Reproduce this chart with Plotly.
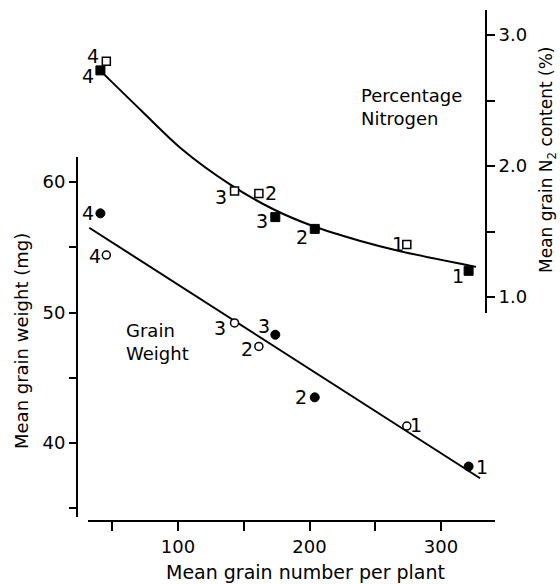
import plotly.graph_objects as go

# ---------------- data ----------------
point_labels = ["1", "2", "3", "4"]
grain_number_filled = [321, 204, 174, 41]
grain_number_open = [274, 161.5, 143, 45.5]

weight_filled = [38.2, 43.5, 48.3, 57.6]
weight_open = [41.3, 47.4, 49.2, 54.4]

nitrogen_filled = [1.20, 1.52, 1.61, 2.73]
nitrogen_open = [1.40, 1.79, 1.81, 2.80]

weight_fit_x = [32.5, 329.7]
weight_fit_y = [56.5, 37.3]

nitrogen_fit_x = [40.7, 72.4, 102.8, 139.5, 172.5, 203, 238, 269, 326.6]
nitrogen_fit_y = [2.73, 2.42, 2.13, 1.86, 1.67, 1.54, 1.43, 1.35, 1.23]

x_tickvals = [50, 100, 150, 200, 250, 300]
x_ticktext = ["", "100", "", "200", "", "300"]
y_tickvals = [35, 40, 45, 50, 55, 60]
y_ticktext = ["", "40", "", "50", "", "60"]
y2_tickvals = [1.0, 1.5, 2.0, 2.5, 3.0]
y2_ticktext = ["1.0", "", "2.0", "", "3.0"]

# ---------------- layout helpers ----------------
W, H = 560, 584
FONT = "DejaVu Sans"


def fx(p):
    return p / W


def fy(p):
    return 1 - p / H


fig = go.Figure()

fig.add_trace(go.Scatter(x=weight_fit_x, y=weight_fit_y, mode="lines",
                         line=dict(color="black", width=2),
                         xaxis="x", yaxis="y", hoverinfo="skip"))
fig.add_trace(go.Scatter(x=nitrogen_fit_x, y=nitrogen_fit_y, mode="lines",
                         line=dict(color="black", width=2, shape="spline", smoothing=0.9),
                         xaxis="x", yaxis="y2", hoverinfo="skip"))

fig.add_trace(go.Scatter(x=grain_number_filled, y=weight_filled, mode="markers",
                         marker=dict(symbol="circle", size=9, color="black",
                                     line=dict(color="black", width=1)),
                         xaxis="x", yaxis="y", cliponaxis=False))
fig.add_trace(go.Scatter(x=grain_number_open, y=weight_open, mode="markers",
                         marker=dict(symbol="circle", size=8, color="white",
                                     line=dict(color="black", width=1.5)),
                         xaxis="x", yaxis="y", cliponaxis=False))
fig.add_trace(go.Scatter(x=grain_number_filled, y=nitrogen_filled, mode="markers",
                         marker=dict(symbol="square", size=9, color="black",
                                     line=dict(color="black", width=1)),
                         xaxis="x", yaxis="y2", cliponaxis=False))
fig.add_trace(go.Scatter(x=grain_number_open, y=nitrogen_open, mode="markers",
                         marker=dict(symbol="square", size=8, color="white",
                                     line=dict(color="black", width=1.5)),
                         xaxis="x", yaxis="y2", cliponaxis=False))

# point label offsets (px) for labels 1..4
off_weight_filled = [(13, 0), (-13.6, 0), (-11.3, 8.6), (-12.7, 0)]
off_weight_open = [(8.7, 1), (-11.7, -2.3), (-15, -5.3), (-11.7, -1)]
off_nitro_filled = [(-10.4, -4.7), (-13, -8), (-13, -3.7), (-12.7, -6)]
off_nitro_open = [(-8.7, 0.7), (12, 0.7), (-13.3, -5.6), (-13.4, 5.7)]

annotations = []
label_font = dict(family=FONT, size=19, color="black")


def add_labels(xs, ys, yref, offs):
    for xv, yv, lab, (dx, dy) in zip(xs, ys, point_labels, offs):
        annotations.append(dict(x=xv, y=yv, xref="x", yref=yref, text=lab,
                                showarrow=False, xanchor="center", yanchor="middle",
                                xshift=dx, yshift=dy, font=label_font))


add_labels(grain_number_filled, weight_filled, "y", off_weight_filled)
add_labels(grain_number_open, weight_open, "y", off_weight_open)
add_labels(grain_number_filled, nitrogen_filled, "y2", off_nitro_filled)
add_labels(grain_number_open, nitrogen_open, "y2", off_nitro_open)

text_font = dict(family=FONT, size=18, color="black")
annotations += [
    dict(x=fx(124), y=fy(342), xref="paper", yref="paper", text="Grain<br>Weight",
         showarrow=False, xanchor="left", yanchor="middle", align="left", font=text_font),
    dict(x=fx(359), y=fy(106.5), xref="paper", yref="paper", text="Percentage<br>Nitrogen",
         showarrow=False, xanchor="left", yanchor="middle", align="left", font=text_font),
    dict(x=fx(305), y=fy(572), xref="paper", yref="paper", text="Mean grain number per plant",
         showarrow=False, xanchor="center", yanchor="middle",
         font=dict(family=FONT, size=19, color="black")),
    dict(x=fx(22), y=fy(341), xref="paper", yref="paper", text="Mean grain weight (mg)",
         showarrow=False, xanchor="center", yanchor="middle", textangle=-90,
         font=dict(family=FONT, size=18, color="black")),
    dict(x=fx(547), y=fy(160), xref="paper", yref="paper",
         text="Mean grain N<sub>2</sub> content (%)",
         showarrow=False, xanchor="center", yanchor="middle", textangle=-90,
         font=dict(family=FONT, size=17, color="black")),
]

axis_common = dict(showline=True, linecolor="black", linewidth=2, ticks="outside",
                   tickwidth=2, tickcolor="black", showgrid=False, zeroline=False,
                   tickfont=dict(family=FONT, size=18, color="black"))

fig.update_layout(
    width=W, height=H,
    margin=dict(l=0, r=0, t=0, b=0),
    paper_bgcolor="white", plot_bgcolor="rgba(0,0,0,0)",
    showlegend=False,
    font=dict(family=FONT, color="black"),
    xaxis=dict(domain=[fx(88), fx(495)], range=[31.56, 341.06], anchor="free",
               position=fy(521), ticklen=9, tickvals=x_tickvals, ticktext=x_ticktext,
               **axis_common),
    yaxis=dict(domain=[fy(517), fy(157)], range=[34.33, 61.92], anchor="free",
               position=fx(77), ticklen=7, tickvals=y_tickvals, ticktext=y_ticktext,
               **axis_common),
    yaxis2=dict(domain=[fy(313), fy(10)], range=[0.878, 3.191], anchor="free",
                position=fx(486), side="right", ticklen=8, tickvals=y2_tickvals,
                ticktext=y2_ticktext, **axis_common),
    annotations=annotations,
)

fig.write_html("out.html")
